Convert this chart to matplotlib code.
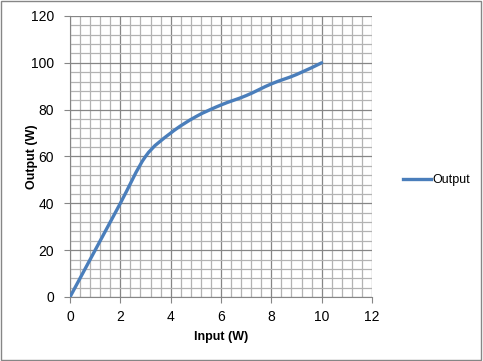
import matplotlib
matplotlib.use("Agg")
import matplotlib.pyplot as plt
from matplotlib.path import Path
from matplotlib.patches import PathPatch, Rectangle
from matplotlib.lines import Line2D
from matplotlib.ticker import MultipleLocator
import numpy as np

plt.rcParams["font.family"] = ["Liberation Sans", "DejaVu Sans"]

input_w = [0, 1, 2, 3, 4, 5, 6, 7, 8, 9, 10]
output_w = [0, 20, 40, 60, 70, 77, 82, 86, 91, 95, 100]
series_name = "Output"

fig = plt.figure(figsize=(4.83, 3.61), dpi=100)
fig.patches.append(Rectangle((0.002, 0.003), 0.994, 0.993, transform=fig.transFigure,
                             fill=False, edgecolor="#868686", linewidth=1.0))
ax = fig.add_axes([0.1449, 0.1773, 0.6253, 0.7784])
ax.set_xlim(0, 12)
ax.set_ylim(0, 120)
ax.xaxis.set_major_locator(MultipleLocator(2))
ax.xaxis.set_minor_locator(MultipleLocator(0.4))
ax.yaxis.set_major_locator(MultipleLocator(20))
ax.yaxis.set_minor_locator(MultipleLocator(4))
ax.grid(which="minor", color="#b3b3b3", linewidth=0.9)
ax.grid(which="major", color="#868686", linewidth=0.9)
ax.set_axisbelow(True)
for s in ax.spines.values():
    s.set_color("#868686")
ax.spines["top"].set_visible(False)
ax.spines["right"].set_visible(False)
ax.tick_params(which="major", direction="out", length=4, color="#868686",
               labelsize=10, labelcolor="black", pad=5.5)
ax.tick_params(axis="y", which="major", pad=7.5)
ax.tick_params(which="minor", length=0)

# Smoothed line (Catmull-Rom style Bezier, like a spreadsheet smoothed line)
x = np.array(input_w, float)
y = np.array(output_w, float)
verts = [(x[0], y[0])]
codes = [Path.MOVETO]
n = len(x)
for i in range(n - 1):
    p0 = (x[max(i - 1, 0)], y[max(i - 1, 0)])
    p1 = (x[i], y[i])
    p2 = (x[i + 1], y[i + 1])
    p3 = (x[min(i + 2, n - 1)], y[min(i + 2, n - 1)])
    c1 = (p1[0] + (p2[0] - p0[0]) / 6, p1[1] + (p2[1] - p0[1]) / 6)
    c2 = (p2[0] - (p3[0] - p1[0]) / 6, p2[1] - (p3[1] - p1[1]) / 6)
    verts += [c1, c2, p2]
    codes += [Path.CURVE4] * 3
ax.add_patch(PathPatch(Path(verts, codes), fill=False, edgecolor="#4a7ebb",
                       linewidth=2.4, capstyle="round", zorder=3))

ax.set_xlabel("Input (W)", fontsize=9, fontweight="bold", labelpad=5)
ax.set_ylabel("Output (W)", fontsize=9, fontweight="bold", labelpad=-5)

handle = Line2D([], [], color="#4a7ebb", linewidth=2.4)
fig.legend([handle], [series_name], loc="center left", bbox_to_anchor=(0.812, 0.50),
           frameon=False, fontsize=9, handlelength=2.2, handletextpad=0.1)

fig.savefig("out.png", dpi=100)
